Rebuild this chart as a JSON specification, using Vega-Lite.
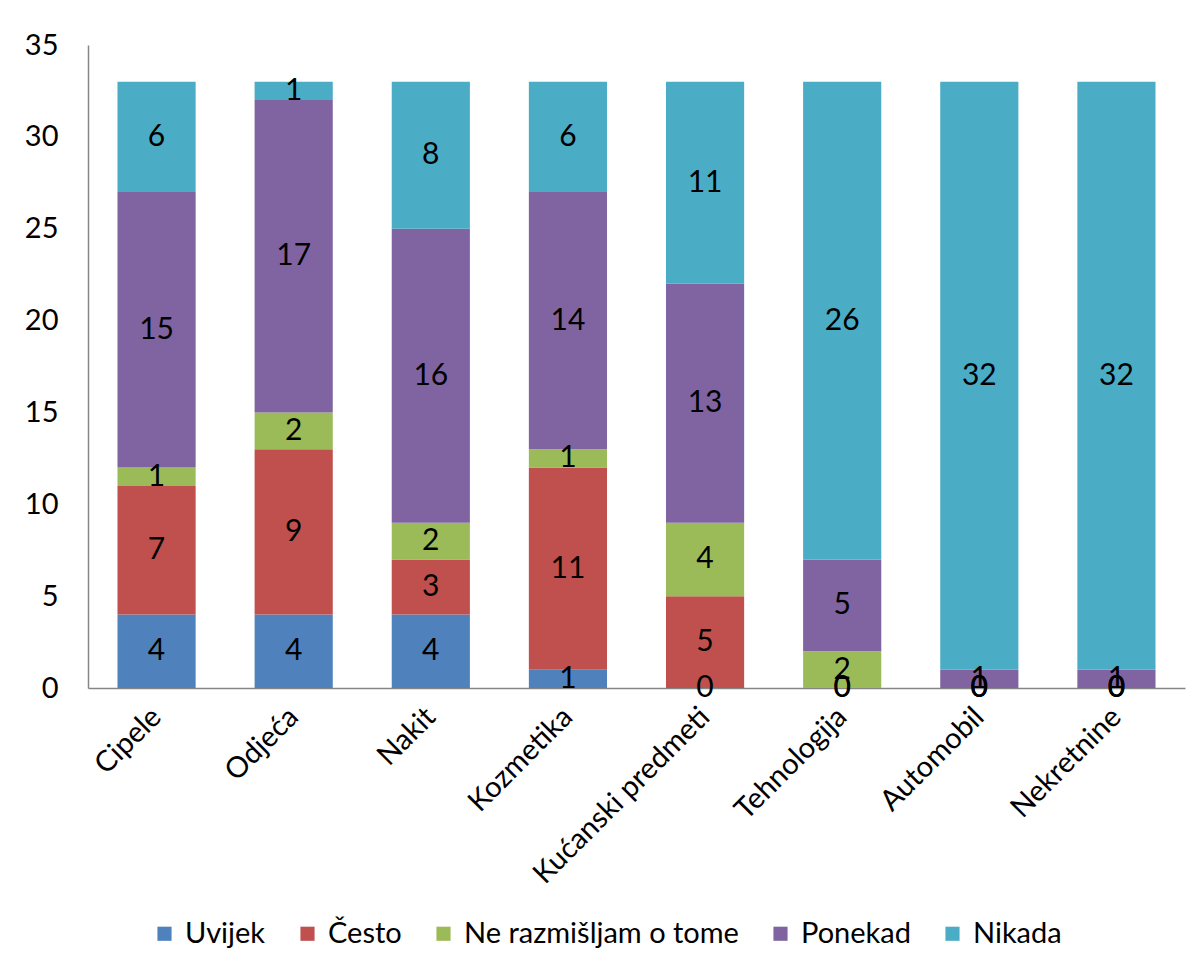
{
  "$schema": "https://vega.github.io/schema/vega-lite/v6.json",
  "width": 1097,
  "height": 643,
  "autosize": {"type": "none"},
  "padding": {"left": 88, "top": 45, "right": 10, "bottom": 282},
  "background": "white",
  "config": {
    "font": "Lato",
    "view": {"stroke": null},
    "axis": {"domainColor": "#868686", "domainWidth": 1.5, "ticks": false, "grid": false, "labelFont": "Lato", "labelFontSize": 29, "labelColor": "#000000", "labelLimit": 0, "title": null}
  },
  "data": {
    "values": [
      {"kategorija": "Cipele", "odgovor": "Uvijek", "broj": 4},
      {"kategorija": "Cipele", "odgovor": "Često", "broj": 7},
      {"kategorija": "Cipele", "odgovor": "Ne razmišljam o tome", "broj": 1},
      {"kategorija": "Cipele", "odgovor": "Ponekad", "broj": 15},
      {"kategorija": "Cipele", "odgovor": "Nikada", "broj": 6},
      {"kategorija": "Odjeća", "odgovor": "Uvijek", "broj": 4},
      {"kategorija": "Odjeća", "odgovor": "Često", "broj": 9},
      {"kategorija": "Odjeća", "odgovor": "Ne razmišljam o tome", "broj": 2},
      {"kategorija": "Odjeća", "odgovor": "Ponekad", "broj": 17},
      {"kategorija": "Odjeća", "odgovor": "Nikada", "broj": 1},
      {"kategorija": "Nakit", "odgovor": "Uvijek", "broj": 4},
      {"kategorija": "Nakit", "odgovor": "Često", "broj": 3},
      {"kategorija": "Nakit", "odgovor": "Ne razmišljam o tome", "broj": 2},
      {"kategorija": "Nakit", "odgovor": "Ponekad", "broj": 16},
      {"kategorija": "Nakit", "odgovor": "Nikada", "broj": 8},
      {"kategorija": "Kozmetika", "odgovor": "Uvijek", "broj": 1},
      {"kategorija": "Kozmetika", "odgovor": "Često", "broj": 11},
      {"kategorija": "Kozmetika", "odgovor": "Ne razmišljam o tome", "broj": 1},
      {"kategorija": "Kozmetika", "odgovor": "Ponekad", "broj": 14},
      {"kategorija": "Kozmetika", "odgovor": "Nikada", "broj": 6},
      {"kategorija": "Kućanski predmeti", "odgovor": "Uvijek", "broj": 0},
      {"kategorija": "Kućanski predmeti", "odgovor": "Često", "broj": 5},
      {"kategorija": "Kućanski predmeti", "odgovor": "Ne razmišljam o tome", "broj": 4},
      {"kategorija": "Kućanski predmeti", "odgovor": "Ponekad", "broj": 13},
      {"kategorija": "Kućanski predmeti", "odgovor": "Nikada", "broj": 11},
      {"kategorija": "Tehnologija", "odgovor": "Uvijek", "broj": 0},
      {"kategorija": "Tehnologija", "odgovor": "Često", "broj": 0},
      {"kategorija": "Tehnologija", "odgovor": "Ne razmišljam o tome", "broj": 2},
      {"kategorija": "Tehnologija", "odgovor": "Ponekad", "broj": 5},
      {"kategorija": "Tehnologija", "odgovor": "Nikada", "broj": 26},
      {"kategorija": "Automobil", "odgovor": "Uvijek", "broj": 0},
      {"kategorija": "Automobil", "odgovor": "Često", "broj": 0},
      {"kategorija": "Automobil", "odgovor": "Ne razmišljam o tome", "broj": 0},
      {"kategorija": "Automobil", "odgovor": "Ponekad", "broj": 1},
      {"kategorija": "Automobil", "odgovor": "Nikada", "broj": 32},
      {"kategorija": "Nekretnine", "odgovor": "Uvijek", "broj": 0},
      {"kategorija": "Nekretnine", "odgovor": "Često", "broj": 0},
      {"kategorija": "Nekretnine", "odgovor": "Ne razmišljam o tome", "broj": 0},
      {"kategorija": "Nekretnine", "odgovor": "Ponekad", "broj": 1},
      {"kategorija": "Nekretnine", "odgovor": "Nikada", "broj": 32}
    ]
  },
  "transform": [
    {"calculate": "indexof(['Uvijek','Često','Ne razmišljam o tome','Ponekad','Nikada'], datum.odgovor)", "as": "redoslijed"},
    {"stack": "broj", "groupby": ["kategorija"], "sort": [{"field": "redoslijed", "order": "ascending"}], "as": ["y0", "y1"]},
    {"calculate": "(datum.y0 + datum.y1) / 2", "as": "sredina"}
  ],
  "encoding": {
    "x": {
      "field": "kategorija",
      "type": "nominal",
      "sort": ["Cipele", "Odjeća", "Nakit", "Kozmetika", "Kućanski predmeti", "Tehnologija", "Automobil", "Nekretnine"],
      "scale": {"paddingInner": 0.43, "paddingOuter": 0.215},
      "axis": {"labelAngle": -45, "labelPadding": 24, "labelAlign": "right", "labelBaseline": "middle"}
    }
  },
  "layer": [
    {
      "mark": {"type": "bar"},
      "encoding": {
        "y": {"field": "y0", "type": "quantitative", "scale": {"domain": [0, 35]}, "axis": {"values": [0, 5, 10, 15, 20, 25, 30, 35], "labelPadding": 30}},
        "y2": {"field": "y1"},
        "color": {
          "field": "odgovor",
          "type": "nominal",
          "scale": {
            "domain": ["Uvijek", "Često", "Ne razmišljam o tome", "Ponekad", "Nikada"],
            "range": ["#4F81BD", "#C0504D", "#9BBB59", "#8064A2", "#4BACC6"]
          },
          "legend": {
            "title": null,
            "orient": "none",
            "direction": "horizontal",
            "legendX": 62,
            "legendY": 874,
            "symbolType": "square",
            "symbolSize": 200,
            "symbolStrokeWidth": 0,
            "symbolOpacity": 1,
            "labelFont": "Lato",
            "labelFontSize": 29,
            "labelColor": "#000000",
            "labelLimit": 0,
            "columnPadding": 27,
            "labelOffset": 6
          }
        }
      }
    },
    {
      "mark": {"type": "text", "fontSize": 30, "color": "#000000", "baseline": "middle", "align": "center", "font": "Lato"},
      "encoding": {
        "y": {"field": "sredina", "type": "quantitative"},
        "text": {"field": "broj", "type": "quantitative"}
      }
    }
  ]
}
